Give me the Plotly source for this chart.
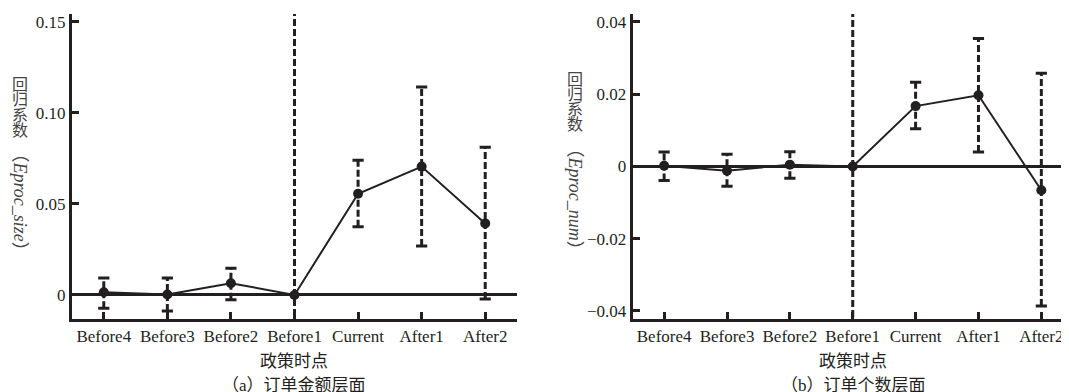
import plotly.graph_objects as go

# The page body has an 8px margin, so the figure is drawn 8px smaller and
# all reference pixel positions are shifted by 8px.
PAGE_W, PAGE_H = 1069, 392
OFF = 8
W, H = PAGE_W - OFF, PAGE_H - OFF
INK = "#231f20"

categories = ["Before4", "Before3", "Before2", "Before1", "Current", "After1", "After2"]

# Panel (a): 订单金额层面
size_coef = [0.0015, 0.0002, 0.0064, 0.0, 0.0556, 0.0705, 0.0393]
size_lo = [-0.0073, -0.0089, -0.0026, -0.16, 0.0375, 0.0269, -0.0022]
size_hi = [0.0093, 0.0093, 0.0147, 0.16, 0.0740, 0.1143, 0.0812]

# Panel (b): 订单个数层面
num_coef = [0.0002, -0.0012, 0.0005, 0.0, 0.0167, 0.0197, -0.0066]
num_lo = [-0.0039, -0.0055, -0.0033, -0.05, 0.0104, 0.0040, -0.0386]
num_hi = [0.0040, 0.0034, 0.0041, 0.05, 0.0233, 0.0354, 0.0258]

size_ticks = [0, 0.05, 0.10, 0.15]
size_ticktext = ["0", "0.05", "0.10", "0.15"]
num_ticks = [-0.04, -0.02, 0, 0.02, 0.04]
num_ticktext = ["\u22120.04", "\u22120.02", "0", "0.02", "0.04"]

SERIF = "'Liberation Serif', 'Times New Roman', 'Noto Sans CJK SC', serif"


def fx(px):
    return (px - OFF) / W


def fy(py):
    return 1 - (py - OFF) / H


fig = go.Figure()


def add_panel(coef, lo, hi, xa, ya):
    for c, l, h in zip(categories, lo, hi):
        fig.add_trace(go.Scatter(
            x=[c, c], y=[l, h], mode="lines+markers", xaxis=xa, yaxis=ya,
            line=dict(color=INK, width=3, dash="7px,3px"),
            marker=dict(symbol="line-ew", size=8, color=INK,
                        line=dict(width=3, color=INK)),
            showlegend=False, hoverinfo="skip"))
    fig.add_trace(go.Scatter(
        x=categories, y=coef, mode="lines+markers", xaxis=xa, yaxis=ya,
        line=dict(color=INK, width=2),
        marker=dict(symbol="circle", size=10, color=INK),
        showlegend=False))


add_panel(size_coef, size_lo, size_hi, "x", "y")
add_panel(num_coef, num_lo, num_hi, "x2", "y2")

ydom = [fy(320), fy(13)]
axis_common = dict(showline=True, linewidth=3, linecolor=INK, ticks="inside",
                   ticklen=7, tickwidth=3, tickcolor=INK, showgrid=False,
                   tickfont=dict(family=SERIF, size=17, color=INK))

fig.update_layout(
    width=W, height=H, margin=dict(l=0, r=0, t=0, b=0),
    paper_bgcolor="white", plot_bgcolor="white",
    xaxis=dict(domain=[fx(72), fx(517)], anchor="y", type="category",
               range=[-0.5, 6.5], zeroline=False, **axis_common),
    yaxis=dict(domain=ydom, anchor="x", range=[-0.013, 0.1544],
               tickvals=size_ticks, ticktext=size_ticktext,
               zeroline=True, zerolinewidth=3, zerolinecolor=INK, **axis_common),
    xaxis2=dict(domain=[fx(632.7), 1.0], anchor="y2", type="category",
                range=[-0.5, 6.44], zeroline=False, **axis_common),
    yaxis2=dict(domain=ydom, anchor="x2", range=[-0.0421, 0.0422],
                tickvals=num_ticks, ticktext=num_ticktext,
                zeroline=True, zerolinewidth=3, zerolinecolor=INK, **axis_common),
)


def ann(text, px, py, size=17, angle=0, color=INK):
    fig.add_annotation(text=text, x=fx(px), y=fy(py), xref="paper", yref="paper",
                       showarrow=False, textangle=angle, xanchor="center", yanchor="middle",
                       font=dict(family=SERIF, size=size, color=color))


TITLE_INK = "#444444"
# y-axis titles: upright CJK characters, rotated Latin part
for i, ch in enumerate("回归系数"):
    ann(ch, 20, 84 + i * 15.5, size=16, color=TITLE_INK)
    ann(ch, 575, 79 + i * 15, size=16, color=TITLE_INK)
ann("（<i>Eproc_size</i>）", 20, 202, size=18, angle=90, color=TITLE_INK)
ann("（<i>Eproc_num</i>）", 575, 199, size=18, angle=90, color=TITLE_INK)

# x-axis titles and captions
ann("政策时点", 294, 363, size=17)
ann("政策时点", 853, 363, size=17)
ann("（a）订单金额层面", 294, 387, size=17)
ann("（b）订单个数层面", 853, 387, size=17)

fig.write_html("out.html")
